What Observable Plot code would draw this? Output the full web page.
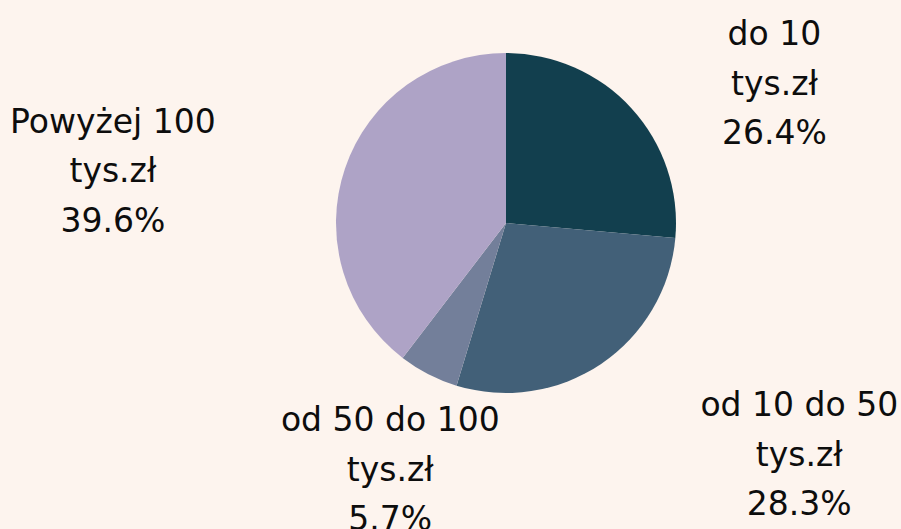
<!DOCTYPE html>
<html>
<head>
<meta charset="utf-8">
<script src="https://cdn.jsdelivr.net/npm/d3@7"></script>
<script src="https://cdn.jsdelivr.net/npm/@observablehq/plot@0.6"></script>
<style>
  html, body { margin: 0; padding: 0; background: #fdf4ee; }
  #chart { width: 901px; height: 529px; overflow: hidden; }
</style>
</head>
<body>
<div id="chart"></div>
<script>
// Data
const categories = ["do 10", "od 10 do 50", "od 50 do 100", "Powyżej 100"];
const labelLines = ["do 10\ntys.zł", "od 10 do 50\ntys.zł", "od 50 do 100\ntys.zł", "Powyżej 100\ntys.zł"];
const shares = [26.4, 28.3, 5.7, 39.6];
const colors = ["#123f4e", "#426078", "#737f9a", "#aea3c6"];

const data = categories.map((c, i) => ({category: c, label: labelLines[i], value: shares[i]}));

const pie = d3.pie().sort(null).value(d => d.value);
const arcs = pie(data);

// label placement derived from each slice's mid-angle (tilted elliptical spread)
const labels = arcs.map(a => {
  const mid = (a.startAngle + a.endAngle) / 2;
  return {
    x: 2.39 * Math.sin(mid) - 0.38 * Math.cos(mid) + 0.07,
    y: 1.45 * Math.cos(mid) - 0.13,
    text: a.data.label + "\n" + a.data.value.toFixed(1) + "%"
  };
});

const colorScale = d3.scaleOrdinal(categories, colors);

function pieMark(index, scales) {
  const cx = scales.x(0), cy = scales.y(0);
  const r = Math.abs(scales.x(1) - scales.x(0));
  const arc = d3.arc().innerRadius(0).outerRadius(r);
  const g = d3.create("svg:g").attr("transform", `translate(${cx},${cy})`);
  g.selectAll("path").data(arcs).join("path")
    .attr("d", arc)
    .attr("fill", d => colorScale(d.data.category));
  return g.node();
}

const chart = Plot.plot({
  width: 901,
  height: 529,
  marginLeft: 336,
  marginRight: 225,
  marginTop: 53,
  marginBottom: 136,
  style: {background: "#fdf4ee", fontFamily: "DejaVu Sans, sans-serif", overflow: "visible"},
  x: {domain: [-1, 1], axis: null},
  y: {domain: [-1, 1], axis: null},
  marks: [
    pieMark,
    Plot.text(labels, {
      x: "x", y: "y", text: "text",
      fontSize: 33, lineHeight: 1.5, fill: "#0d0d0d",
      textAnchor: "middle"
    })
  ]
});
document.getElementById("chart").appendChild(chart);
</script>
</body>
</html>
